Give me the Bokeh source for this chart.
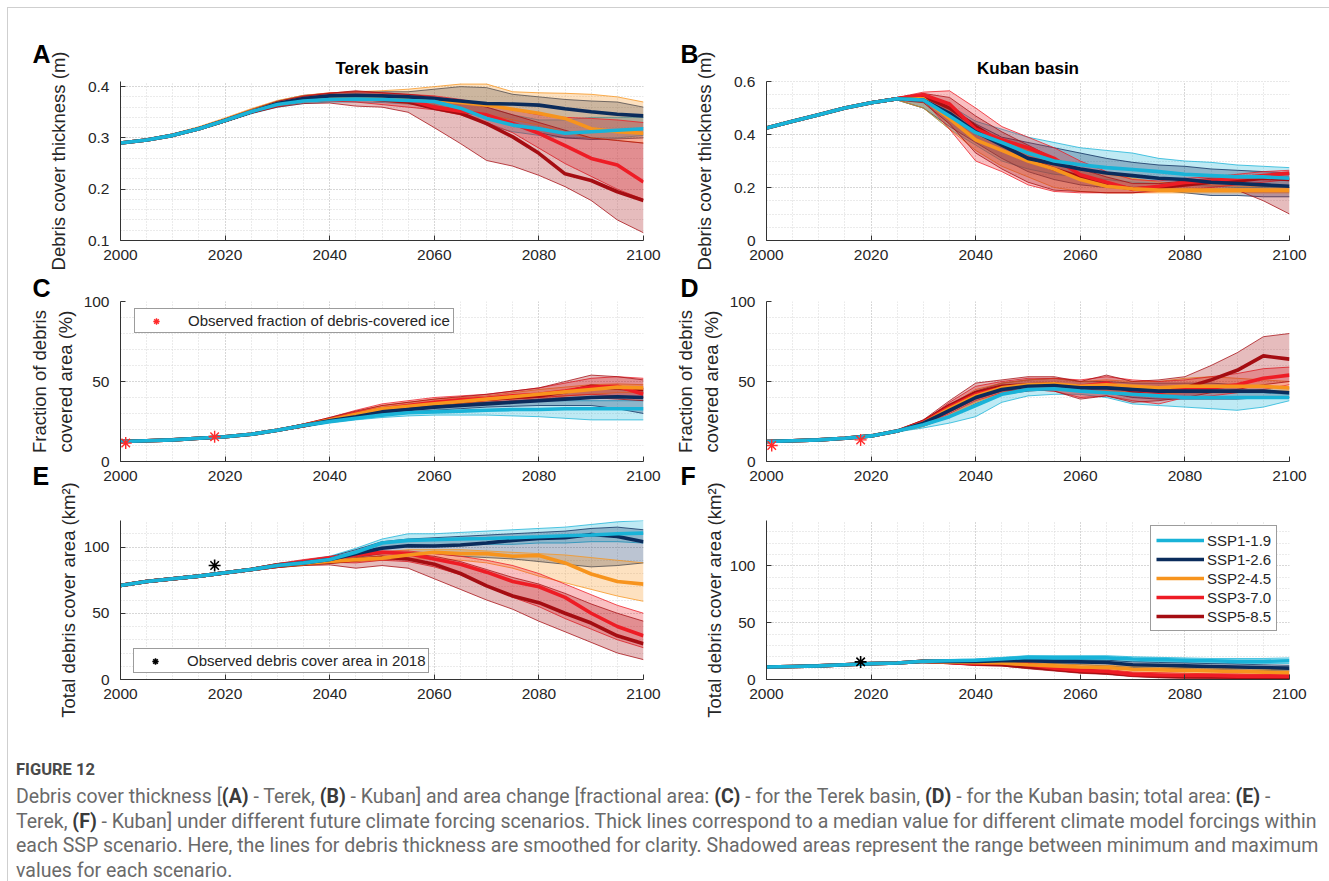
from bokeh.plotting import figure
from bokeh.models import (Range1d, SingleIntervalTicker, Title, Legend, LegendItem,
                          Div, CustomJSTickFormatter)
from bokeh.layouts import row, column
from bokeh.embed import file_html
from bokeh.resources import INLINE

# ---------------------------------------------------------------- data
YEARS = [2000, 2005, 2010, 2015, 2020, 2025, 2030, 2035, 2040, 2045, 2050,
         2055, 2060, 2065, 2070, 2075, 2080, 2085, 2090, 2095, 2100]
SCENARIOS = ["SSP1-1.9", "SSP1-2.6", "SSP2-4.5", "SSP3-7.0", "SSP5-8.5"]
COLORS = ["#19B3D8", "#0B2C5C", "#F7941D", "#EE1C25", "#A50D12"]

# Terek basin, debris cover thickness (m): median, min, max
terek_thk_119 = [0.290, 0.296, 0.305, 0.318, 0.334, 0.351, 0.365, 0.372, 0.375, 0.376, 0.375, 0.373, 0.371, 0.358, 0.338, 0.325, 0.318, 0.309, 0.312, 0.315, 0.318]
terek_thk_126 = [0.290, 0.296, 0.305, 0.318, 0.334, 0.351, 0.367, 0.377, 0.382, 0.383, 0.382, 0.380, 0.377, 0.372, 0.367, 0.366, 0.364, 0.357, 0.351, 0.346, 0.343]
terek_thk_245 = [0.290, 0.296, 0.305, 0.318, 0.334, 0.352, 0.367, 0.376, 0.380, 0.382, 0.381, 0.378, 0.374, 0.369, 0.364, 0.356, 0.348, 0.338, 0.318, 0.312, 0.309]
terek_thk_370 = [0.290, 0.296, 0.305, 0.318, 0.334, 0.351, 0.366, 0.376, 0.381, 0.382, 0.380, 0.375, 0.360, 0.352, 0.345, 0.328, 0.309, 0.285, 0.260, 0.247, 0.214]
terek_thk_585 = [0.290, 0.296, 0.305, 0.318, 0.334, 0.351, 0.366, 0.375, 0.380, 0.378, 0.374, 0.370, 0.358, 0.348, 0.328, 0.302, 0.270, 0.230, 0.217, 0.195, 0.178]
terek_thk_119_lo = [0.289, 0.295, 0.304, 0.316, 0.331, 0.347, 0.360, 0.367, 0.370, 0.370, 0.369, 0.366, 0.364, 0.350, 0.325, 0.312, 0.305, 0.300, 0.300, 0.300, 0.305]
terek_thk_119_hi = [0.291, 0.297, 0.306, 0.320, 0.337, 0.355, 0.370, 0.378, 0.381, 0.382, 0.381, 0.380, 0.378, 0.370, 0.360, 0.345, 0.335, 0.335, 0.340, 0.340, 0.340]
terek_thk_126_lo = [0.289, 0.295, 0.304, 0.316, 0.331, 0.348, 0.362, 0.371, 0.375, 0.376, 0.374, 0.370, 0.362, 0.355, 0.345, 0.330, 0.310, 0.300, 0.297, 0.298, 0.300]
terek_thk_126_hi = [0.291, 0.297, 0.306, 0.320, 0.337, 0.355, 0.372, 0.383, 0.387, 0.390, 0.390, 0.390, 0.395, 0.400, 0.398, 0.385, 0.380, 0.375, 0.372, 0.370, 0.360]
terek_thk_245_lo = [0.289, 0.295, 0.304, 0.316, 0.331, 0.348, 0.362, 0.370, 0.373, 0.374, 0.372, 0.367, 0.360, 0.355, 0.345, 0.335, 0.325, 0.310, 0.300, 0.295, 0.290]
terek_thk_245_hi = [0.291, 0.298, 0.308, 0.322, 0.339, 0.357, 0.373, 0.383, 0.388, 0.390, 0.392, 0.395, 0.400, 0.405, 0.405, 0.390, 0.388, 0.387, 0.385, 0.380, 0.370]
terek_thk_370_lo = [0.289, 0.295, 0.304, 0.316, 0.331, 0.348, 0.361, 0.370, 0.372, 0.370, 0.365, 0.360, 0.355, 0.345, 0.330, 0.310, 0.280, 0.250, 0.225, 0.200, 0.180]
terek_thk_370_hi = [0.291, 0.297, 0.306, 0.320, 0.337, 0.355, 0.371, 0.382, 0.388, 0.390, 0.388, 0.385, 0.382, 0.375, 0.365, 0.355, 0.345, 0.340, 0.338, 0.335, 0.330]
terek_thk_585_lo = [0.289, 0.295, 0.304, 0.316, 0.331, 0.348, 0.360, 0.367, 0.368, 0.362, 0.360, 0.350, 0.320, 0.289, 0.256, 0.245, 0.227, 0.205, 0.178, 0.140, 0.115]
terek_thk_585_hi = [0.291, 0.297, 0.306, 0.320, 0.337, 0.355, 0.371, 0.381, 0.387, 0.392, 0.388, 0.385, 0.380, 0.372, 0.360, 0.345, 0.330, 0.315, 0.300, 0.295, 0.290]

# Kuban basin, debris cover thickness (m)
kuban_thk_119 = [0.425, 0.450, 0.475, 0.500, 0.520, 0.535, 0.530, 0.470, 0.407, 0.370, 0.330, 0.300, 0.286, 0.275, 0.268, 0.260, 0.250, 0.245, 0.240, 0.240, 0.235]
kuban_thk_126 = [0.425, 0.450, 0.475, 0.500, 0.520, 0.535, 0.530, 0.480, 0.410, 0.360, 0.310, 0.290, 0.270, 0.255, 0.245, 0.235, 0.230, 0.220, 0.215, 0.210, 0.205]
kuban_thk_245 = [0.425, 0.450, 0.475, 0.500, 0.520, 0.535, 0.535, 0.460, 0.380, 0.340, 0.300, 0.270, 0.230, 0.205, 0.195, 0.190, 0.190, 0.190, 0.190, 0.190, 0.190]
kuban_thk_370 = [0.425, 0.450, 0.475, 0.500, 0.520, 0.535, 0.550, 0.515, 0.420, 0.380, 0.350, 0.310, 0.248, 0.220, 0.193, 0.205, 0.219, 0.225, 0.235, 0.245, 0.255]
kuban_thk_585 = [0.425, 0.450, 0.475, 0.500, 0.520, 0.535, 0.545, 0.500, 0.430, 0.370, 0.305, 0.270, 0.240, 0.210, 0.195, 0.200, 0.210, 0.220, 0.225, 0.235, 0.230]
kuban_thk_119_lo = [0.422, 0.447, 0.472, 0.497, 0.516, 0.530, 0.500, 0.420, 0.360, 0.300, 0.270, 0.250, 0.240, 0.230, 0.220, 0.215, 0.210, 0.205, 0.200, 0.200, 0.200]
kuban_thk_119_hi = [0.428, 0.453, 0.478, 0.503, 0.524, 0.540, 0.540, 0.510, 0.450, 0.420, 0.390, 0.370, 0.350, 0.340, 0.330, 0.310, 0.300, 0.295, 0.285, 0.280, 0.275]
kuban_thk_126_lo = [0.422, 0.447, 0.472, 0.497, 0.516, 0.530, 0.500, 0.430, 0.370, 0.310, 0.260, 0.230, 0.210, 0.200, 0.195, 0.190, 0.180, 0.170, 0.170, 0.165, 0.165]
kuban_thk_126_hi = [0.428, 0.453, 0.478, 0.503, 0.524, 0.540, 0.540, 0.500, 0.440, 0.390, 0.370, 0.350, 0.330, 0.310, 0.295, 0.285, 0.280, 0.270, 0.265, 0.260, 0.255]
kuban_thk_245_lo = [0.422, 0.447, 0.472, 0.497, 0.516, 0.530, 0.500, 0.420, 0.340, 0.280, 0.240, 0.200, 0.185, 0.180, 0.180, 0.180, 0.180, 0.180, 0.180, 0.180, 0.180]
kuban_thk_245_hi = [0.428, 0.453, 0.478, 0.503, 0.524, 0.540, 0.545, 0.500, 0.430, 0.380, 0.340, 0.300, 0.270, 0.250, 0.235, 0.220, 0.215, 0.210, 0.205, 0.205, 0.200]
kuban_thk_370_lo = [0.422, 0.447, 0.472, 0.497, 0.516, 0.530, 0.530, 0.420, 0.300, 0.260, 0.210, 0.185, 0.180, 0.180, 0.180, 0.185, 0.190, 0.200, 0.210, 0.220, 0.230]
kuban_thk_370_hi = [0.428, 0.453, 0.478, 0.503, 0.524, 0.540, 0.560, 0.565, 0.500, 0.430, 0.390, 0.350, 0.300, 0.260, 0.230, 0.225, 0.235, 0.240, 0.250, 0.260, 0.265]
kuban_thk_585_lo = [0.422, 0.447, 0.472, 0.497, 0.516, 0.530, 0.520, 0.440, 0.330, 0.270, 0.220, 0.190, 0.185, 0.180, 0.180, 0.190, 0.190, 0.190, 0.190, 0.150, 0.100]
kuban_thk_585_hi = [0.428, 0.453, 0.478, 0.503, 0.524, 0.540, 0.555, 0.540, 0.470, 0.410, 0.360, 0.310, 0.270, 0.240, 0.215, 0.215, 0.225, 0.235, 0.240, 0.245, 0.250]

# Terek basin, fraction of debris covered area (%)
terek_frac_119 = [12.5, 13.0, 13.5, 14.5, 15.5, 17.0, 19.5, 22.5, 25.0, 27.0, 29.0, 30.5, 31.0, 31.5, 32.0, 32.5, 32.5, 33.0, 33.0, 33.0, 33.0]
terek_frac_126 = [12.5, 13.0, 13.5, 14.5, 15.5, 17.0, 19.5, 22.5, 25.5, 28.0, 31.0, 32.5, 34.0, 35.0, 36.0, 37.0, 38.0, 39.0, 40.0, 40.5, 40.0]
terek_frac_245 = [12.5, 13.0, 13.5, 14.5, 15.5, 17.0, 19.5, 22.5, 26.0, 29.5, 33.0, 34.5, 36.0, 37.5, 39.0, 40.5, 42.0, 43.5, 45.0, 46.5, 46.0]
terek_frac_370 = [12.5, 13.0, 13.5, 14.5, 15.5, 17.0, 19.5, 22.5, 26.0, 30.0, 33.0, 35.0, 37.0, 38.5, 39.5, 41.0, 42.0, 44.0, 46.5, 47.0, 42.0]
terek_frac_585 = [12.5, 13.0, 13.5, 14.5, 15.5, 17.0, 19.5, 22.5, 26.0, 29.5, 32.0, 34.0, 36.0, 37.5, 39.0, 40.0, 41.0, 43.5, 47.0, 46.0, 45.0]
terek_frac_119_lo = [12.0, 12.5, 13.0, 14.0, 15.0, 16.5, 19.0, 21.5, 24.0, 26.0, 27.5, 28.5, 29.0, 29.0, 29.0, 28.5, 28.0, 27.0, 26.0, 26.0, 26.0]
terek_frac_119_hi = [13.0, 13.5, 14.0, 15.0, 16.0, 17.5, 20.0, 23.5, 26.0, 30.0, 33.0, 35.0, 36.0, 36.5, 37.0, 37.5, 38.0, 38.0, 38.0, 38.0, 38.0]
terek_frac_126_lo = [12.0, 12.5, 13.0, 14.0, 15.0, 16.5, 19.0, 21.5, 24.5, 26.5, 29.0, 31.0, 32.0, 33.0, 34.0, 34.5, 35.0, 35.0, 35.0, 33.0, 30.0]
terek_frac_126_hi = [13.0, 13.5, 14.0, 15.0, 16.0, 17.5, 20.0, 23.5, 26.5, 30.0, 33.0, 35.0, 37.0, 38.5, 40.0, 41.0, 42.0, 43.5, 45.0, 45.0, 44.0]
terek_frac_245_lo = [12.0, 12.5, 13.0, 14.0, 15.0, 16.5, 19.0, 21.5, 25.0, 28.0, 31.0, 33.0, 35.0, 36.5, 38.0, 39.0, 40.0, 41.0, 42.0, 43.0, 43.0]
terek_frac_245_hi = [13.0, 13.5, 14.0, 15.0, 16.0, 17.5, 20.0, 23.5, 27.0, 31.0, 35.0, 37.0, 39.0, 40.0, 41.0, 43.0, 45.0, 46.5, 48.0, 48.5, 48.0]
terek_frac_370_lo = [12.0, 12.5, 13.0, 14.0, 15.0, 16.5, 19.0, 21.5, 25.0, 28.5, 31.0, 33.0, 35.0, 36.5, 38.0, 39.0, 40.0, 41.0, 42.0, 41.0, 40.0]
terek_frac_370_hi = [13.0, 13.5, 14.0, 15.0, 16.0, 17.5, 20.0, 23.5, 27.5, 32.0, 36.0, 38.0, 40.0, 41.0, 42.0, 44.0, 46.0, 49.0, 52.0, 53.0, 52.0]
terek_frac_585_lo = [12.0, 12.5, 13.0, 14.0, 15.0, 16.5, 19.0, 21.5, 25.0, 28.0, 30.0, 32.0, 34.0, 35.5, 37.0, 38.0, 39.0, 40.0, 40.0, 39.0, 38.0]
terek_frac_585_hi = [13.0, 13.5, 14.0, 15.0, 16.0, 17.5, 20.0, 23.5, 27.5, 31.5, 35.0, 37.0, 39.0, 40.5, 42.0, 44.0, 46.0, 50.0, 54.0, 53.0, 51.0]

# Kuban basin, fraction of debris covered area (%)
kuban_frac_119 = [12.5, 13.0, 13.5, 14.5, 16.0, 19.0, 23.0, 28.0, 35.0, 42.0, 45.0, 45.5, 44.0, 43.0, 42.0, 41.0, 40.0, 40.0, 40.0, 40.0, 40.0]
kuban_frac_126 = [12.5, 13.0, 13.5, 14.5, 16.0, 19.0, 24.0, 32.0, 40.0, 45.0, 47.0, 47.5, 46.0, 46.0, 45.0, 44.0, 44.0, 44.0, 44.0, 44.0, 43.0]
kuban_frac_245 = [12.5, 13.0, 13.5, 14.5, 16.0, 19.0, 24.0, 33.0, 41.0, 46.0, 48.0, 48.5, 47.0, 48.0, 47.0, 46.0, 47.0, 47.0, 47.0, 47.0, 46.0]
kuban_frac_370 = [12.5, 13.0, 13.5, 14.5, 16.0, 19.0, 24.5, 34.0, 42.0, 46.0, 47.0, 48.0, 47.0, 49.0, 45.0, 43.0, 46.0, 46.0, 48.0, 52.0, 54.0]
kuban_frac_585 = [12.5, 13.0, 13.5, 14.5, 16.0, 19.0, 25.0, 35.0, 43.0, 47.0, 48.0, 48.5, 46.0, 48.0, 44.0, 44.0, 46.0, 51.0, 57.0, 66.0, 64.0]
kuban_frac_119_lo = [12.0, 12.5, 13.0, 14.0, 15.5, 18.5, 21.0, 24.0, 28.0, 37.0, 41.0, 42.0, 42.0, 40.0, 36.0, 35.0, 34.0, 33.0, 32.0, 34.0, 38.0]
kuban_frac_119_hi = [13.0, 13.5, 14.0, 15.0, 16.5, 19.5, 23.0, 31.0, 40.0, 46.0, 48.0, 49.0, 47.0, 46.0, 45.0, 44.0, 43.0, 43.0, 43.0, 43.0, 42.0]
kuban_frac_126_lo = [12.0, 12.5, 13.0, 14.0, 15.5, 18.5, 22.0, 28.0, 36.0, 42.0, 44.0, 45.0, 44.0, 43.0, 40.0, 39.0, 39.0, 39.0, 39.0, 40.0, 40.0]
kuban_frac_126_hi = [13.0, 13.5, 14.0, 15.0, 16.5, 19.5, 25.0, 35.0, 44.0, 49.0, 51.0, 52.0, 50.0, 50.0, 49.0, 49.0, 49.0, 49.0, 48.0, 47.0, 46.0]
kuban_frac_245_lo = [12.0, 12.5, 13.0, 14.0, 15.5, 18.5, 22.0, 29.0, 37.0, 43.0, 45.0, 45.0, 44.0, 44.0, 43.0, 42.0, 43.0, 43.0, 43.0, 44.0, 44.0]
kuban_frac_245_hi = [13.0, 13.5, 14.0, 15.0, 16.5, 19.5, 25.0, 35.0, 45.0, 49.0, 51.0, 52.0, 50.0, 51.0, 50.0, 50.0, 52.0, 53.0, 52.0, 51.0, 50.0]
kuban_frac_370_lo = [12.0, 12.5, 13.0, 14.0, 15.5, 18.5, 23.0, 30.0, 38.0, 43.0, 45.0, 44.0, 40.0, 41.0, 38.0, 36.0, 40.0, 41.0, 43.0, 45.0, 48.0]
kuban_frac_370_hi = [13.0, 13.5, 14.0, 15.0, 16.5, 19.5, 25.0, 37.0, 47.0, 50.0, 52.0, 52.0, 51.0, 53.0, 51.0, 50.0, 51.0, 53.0, 55.0, 58.0, 59.0]
kuban_frac_585_lo = [12.0, 12.5, 13.0, 14.0, 15.5, 18.5, 23.0, 31.0, 39.0, 44.0, 45.0, 44.0, 39.0, 41.0, 37.0, 38.0, 40.0, 43.0, 45.0, 48.0, 50.0]
kuban_frac_585_hi = [13.0, 13.5, 14.0, 15.0, 16.5, 19.5, 26.0, 38.0, 49.0, 51.0, 53.0, 53.0, 50.0, 54.0, 50.0, 51.0, 53.0, 60.0, 68.0, 78.0, 80.0]

# Terek basin, total debris cover area (km2)
terek_area_119 = [71.0, 74.0, 76.0, 78.0, 80.5, 83.0, 86.0, 88.0, 90.6, 96.0, 103.0, 105.0, 105.5, 106.0, 106.4, 107.0, 107.7, 108.5, 109.0, 110.0, 110.5]
terek_area_126 = [71.0, 74.0, 76.0, 78.0, 80.5, 83.0, 86.0, 88.0, 90.5, 95.0, 99.0, 101.0, 100.8, 101.5, 103.0, 105.0, 106.4, 107.0, 109.4, 108.0, 104.0]
terek_area_245 = [71.0, 74.0, 76.0, 78.0, 80.5, 83.0, 86.0, 87.5, 89.0, 90.5, 91.6, 94.0, 96.0, 95.0, 95.0, 93.0, 93.6, 88.0, 79.6, 74.0, 72.0]
terek_area_370 = [71.0, 74.0, 76.0, 78.0, 80.5, 83.0, 86.0, 89.0, 91.6, 94.0, 96.0, 95.0, 91.0, 87.0, 81.0, 74.0, 70.0, 62.0, 50.0, 40.0, 33.0]
terek_area_585 = [71.0, 74.0, 76.0, 78.0, 80.5, 83.0, 86.0, 87.5, 88.5, 90.5, 92.3, 91.0, 87.0, 80.0, 70.7, 63.0, 58.0, 50.0, 42.6, 33.0, 27.0]
terek_area_119_lo = [70.0, 73.0, 75.0, 77.0, 79.5, 82.0, 84.5, 86.5, 89.0, 94.0, 99.0, 101.0, 101.0, 101.0, 102.0, 102.0, 103.0, 103.0, 104.0, 104.0, 103.0]
terek_area_119_hi = [72.0, 75.0, 77.0, 79.0, 81.5, 84.0, 87.5, 90.0, 93.0, 99.0, 106.0, 110.0, 110.0, 111.0, 112.0, 113.0, 114.0, 115.0, 117.0, 119.0, 120.0]
terek_area_126_lo = [70.0, 73.0, 75.0, 77.0, 79.5, 82.0, 84.5, 86.5, 88.5, 92.0, 95.0, 96.0, 95.0, 93.0, 92.0, 91.0, 89.0, 87.0, 85.0, 86.0, 88.0]
terek_area_126_hi = [72.0, 75.0, 77.0, 79.0, 81.5, 84.0, 87.5, 89.5, 92.5, 98.0, 104.0, 106.0, 107.0, 108.0, 109.0, 110.0, 111.0, 112.0, 114.0, 115.0, 113.0]
terek_area_245_lo = [70.0, 73.0, 75.0, 77.0, 79.5, 82.0, 84.5, 86.0, 87.5, 89.0, 90.0, 91.0, 91.0, 90.0, 88.0, 84.0, 78.0, 73.0, 68.0, 63.0, 59.0]
terek_area_245_hi = [72.0, 75.0, 77.0, 79.0, 81.5, 84.0, 87.5, 89.0, 91.0, 93.0, 96.0, 98.0, 98.0, 98.0, 97.0, 96.0, 95.0, 94.0, 92.0, 90.0, 88.0]
terek_area_370_lo = [70.0, 73.0, 75.0, 77.0, 79.5, 82.0, 84.5, 87.0, 88.5, 88.0, 90.0, 89.0, 85.0, 79.0, 71.0, 62.0, 55.0, 46.0, 38.0, 30.0, 24.0]
terek_area_370_hi = [72.0, 75.0, 77.0, 79.0, 81.5, 84.0, 87.5, 90.5, 93.0, 95.0, 97.0, 97.0, 95.0, 93.0, 90.0, 86.0, 80.0, 72.0, 64.0, 56.0, 50.0]
terek_area_585_lo = [70.0, 73.0, 75.0, 77.0, 79.5, 82.0, 84.5, 86.0, 86.5, 84.0, 86.0, 84.0, 76.0, 68.0, 60.0, 53.0, 44.0, 36.0, 28.0, 20.0, 15.0]
terek_area_585_hi = [72.0, 75.0, 77.0, 79.0, 81.5, 84.0, 87.5, 89.0, 91.0, 93.0, 95.0, 95.0, 93.0, 89.0, 83.0, 77.0, 72.0, 65.0, 57.0, 50.0, 44.0]

# Kuban basin, total debris cover area (km2)
kuban_area_119 = [11.0, 11.5, 12.0, 13.0, 14.0, 14.5, 16.0, 16.5, 17.0, 18.0, 19.5, 19.0, 19.0, 19.0, 18.0, 17.5, 17.0, 16.5, 16.0, 16.0, 16.5]
kuban_area_126 = [11.0, 11.5, 12.0, 13.0, 14.0, 14.5, 16.0, 16.0, 16.0, 16.5, 16.5, 16.0, 15.5, 15.0, 13.0, 12.5, 12.0, 11.5, 11.0, 10.5, 10.0]
kuban_area_245 = [11.0, 11.5, 12.0, 13.0, 14.0, 14.5, 16.0, 15.5, 15.0, 14.5, 13.0, 12.0, 11.0, 10.5, 9.0, 8.5, 8.0, 7.5, 7.0, 6.5, 6.0]
kuban_area_370 = [11.0, 11.5, 12.0, 13.0, 14.0, 14.5, 16.0, 15.0, 14.0, 15.0, 13.0, 10.0, 8.0, 7.0, 4.5, 4.0, 3.5, 3.5, 3.0, 3.0, 3.0]
kuban_area_585 = [11.0, 11.5, 12.0, 13.0, 14.0, 14.5, 16.0, 15.0, 13.5, 13.0, 11.0, 9.0, 7.0, 6.0, 4.0, 3.0, 2.5, 2.2, 2.0, 2.0, 2.0]
kuban_area_119_lo = [10.5, 11.0, 11.5, 12.5, 13.5, 14.0, 15.0, 15.5, 16.0, 17.0, 18.0, 17.5, 17.0, 16.5, 16.0, 15.5, 15.0, 14.5, 14.0, 14.0, 14.0]
kuban_area_119_hi = [11.5, 12.0, 12.5, 13.5, 14.5, 15.0, 17.0, 17.5, 18.0, 19.5, 21.0, 21.0, 21.0, 21.0, 20.0, 19.5, 19.0, 18.5, 18.5, 18.5, 19.0]
kuban_area_126_lo = [10.5, 11.0, 11.5, 12.5, 13.5, 14.0, 15.0, 15.0, 15.0, 15.0, 15.0, 14.0, 13.0, 12.0, 10.5, 10.0, 9.5, 9.0, 8.5, 8.0, 7.5]
kuban_area_126_hi = [11.5, 12.0, 12.5, 13.5, 14.5, 15.0, 17.0, 17.0, 17.0, 18.0, 18.0, 18.0, 17.5, 17.0, 15.5, 15.0, 14.5, 14.0, 13.5, 13.0, 12.5]
kuban_area_245_lo = [10.5, 11.0, 11.5, 12.5, 13.5, 14.0, 15.0, 14.5, 14.0, 13.0, 11.0, 10.0, 9.0, 8.0, 6.5, 6.0, 5.5, 5.0, 4.5, 4.0, 4.0]
kuban_area_245_hi = [11.5, 12.0, 12.5, 13.5, 14.5, 15.0, 17.0, 16.5, 16.0, 16.0, 15.0, 14.0, 13.0, 12.5, 11.5, 11.0, 10.5, 10.0, 9.5, 9.0, 8.5]
kuban_area_370_lo = [10.5, 11.0, 11.5, 12.5, 13.5, 14.0, 15.0, 14.0, 13.0, 13.0, 11.0, 8.0, 6.0, 5.0, 3.0, 2.5, 2.0, 2.0, 1.5, 1.5, 1.5]
kuban_area_370_hi = [11.5, 12.0, 12.5, 13.5, 14.5, 15.0, 17.0, 16.0, 15.0, 16.5, 15.0, 12.0, 10.0, 9.0, 6.5, 6.0, 5.5, 5.0, 5.0, 4.5, 4.5]
kuban_area_585_lo = [10.5, 11.0, 11.5, 12.5, 13.5, 14.0, 15.0, 14.0, 12.5, 12.0, 9.5, 7.5, 5.5, 4.5, 2.5, 1.5, 1.0, 1.0, 1.0, 1.0, 1.0]
kuban_area_585_hi = [11.5, 12.0, 12.5, 13.5, 14.5, 15.0, 17.0, 16.0, 14.5, 14.5, 13.0, 11.0, 9.0, 7.5, 5.5, 4.5, 4.0, 3.5, 3.0, 3.0, 3.0]

# observations
terek_obs_frac_years = [2001, 2018]
terek_obs_frac = [11.5, 15.5]
kuban_obs_frac_years = [2001, 2018]
kuban_obs_frac = [10.0, 13.5]
terek_obs_area_years = [2018]
terek_obs_area = [86.0]
kuban_obs_area_years = [2018]
kuban_obs_area = [15.5]

TEREK_THK = [(terek_thk_119, terek_thk_119_lo, terek_thk_119_hi), (terek_thk_126, terek_thk_126_lo, terek_thk_126_hi),
             (terek_thk_245, terek_thk_245_lo, terek_thk_245_hi), (terek_thk_370, terek_thk_370_lo, terek_thk_370_hi),
             (terek_thk_585, terek_thk_585_lo, terek_thk_585_hi)]
KUBAN_THK = [(kuban_thk_119, kuban_thk_119_lo, kuban_thk_119_hi), (kuban_thk_126, kuban_thk_126_lo, kuban_thk_126_hi),
             (kuban_thk_245, kuban_thk_245_lo, kuban_thk_245_hi), (kuban_thk_370, kuban_thk_370_lo, kuban_thk_370_hi),
             (kuban_thk_585, kuban_thk_585_lo, kuban_thk_585_hi)]
TEREK_FRAC = [(terek_frac_119, terek_frac_119_lo, terek_frac_119_hi), (terek_frac_126, terek_frac_126_lo, terek_frac_126_hi),
              (terek_frac_245, terek_frac_245_lo, terek_frac_245_hi), (terek_frac_370, terek_frac_370_lo, terek_frac_370_hi),
              (terek_frac_585, terek_frac_585_lo, terek_frac_585_hi)]
KUBAN_FRAC = [(kuban_frac_119, kuban_frac_119_lo, kuban_frac_119_hi), (kuban_frac_126, kuban_frac_126_lo, kuban_frac_126_hi),
              (kuban_frac_245, kuban_frac_245_lo, kuban_frac_245_hi), (kuban_frac_370, kuban_frac_370_lo, kuban_frac_370_hi),
              (kuban_frac_585, kuban_frac_585_lo, kuban_frac_585_hi)]
TEREK_AREA = [(terek_area_119, terek_area_119_lo, terek_area_119_hi), (terek_area_126, terek_area_126_lo, terek_area_126_hi),
              (terek_area_245, terek_area_245_lo, terek_area_245_hi), (terek_area_370, terek_area_370_lo, terek_area_370_hi),
              (terek_area_585, terek_area_585_lo, terek_area_585_hi)]
KUBAN_AREA = [(kuban_area_119, kuban_area_119_lo, kuban_area_119_hi), (kuban_area_126, kuban_area_126_lo, kuban_area_126_hi),
              (kuban_area_245, kuban_area_245_lo, kuban_area_245_hi), (kuban_area_370, kuban_area_370_lo, kuban_area_370_hi),
              (kuban_area_585, kuban_area_585_lo, kuban_area_585_hi)]

# ---------------------------------------------------------------- styling
FONT = "Liberation Sans"
AXIS_COLOR = "#333333"
TEXT_COLOR = "#262626"
LEFT_W, RIGHT_W = 656, 665
ROW_H = [262, 215, 289]
ROW3_OVERLAP = 53          # bottom row starts above the end of the middle row
# (left, right) border of the left / right column figures
COL_BORDERS = [(112, 21), (102, 40)]
# (top, bottom) border of each row
ROW_BORDERS = [(73, 30), (31, 24), (88, 42)]

fmt_code = "return String(Number(tick.toFixed(3)));"


def make_panel(col, rw, ylim, yint, yminor, ylabel, ylabel_standoff):
    left, right = COL_BORDERS[col]
    top, bottom = ROW_BORDERS[rw]
    p = figure(width=LEFT_W if col == 0 else RIGHT_W, height=ROW_H[rw], title=None,
               x_range=Range1d(2000, 2100), y_range=Range1d(*ylim),
               output_backend="svg", toolbar_location=None,
               min_border_left=left, min_border_right=right,
               min_border_top=top, min_border_bottom=bottom)
    p.outline_line_color = None
    p.background_fill_color = "white"
    p.border_fill_color = "white"
    p.xaxis.ticker = SingleIntervalTicker(interval=20, num_minor_ticks=4)
    p.yaxis.ticker = SingleIntervalTicker(interval=yint, num_minor_ticks=yminor)
    for ax in (p.xaxis[0], p.yaxis[0]):
        ax.formatter = CustomJSTickFormatter(code=fmt_code)
        ax.axis_line_color = AXIS_COLOR
        ax.axis_line_width = 1
        ax.major_tick_line_color = AXIS_COLOR
        ax.major_tick_in = 5
        ax.major_tick_out = 0
        ax.minor_tick_line_color = None
        ax.major_label_text_font = FONT
        ax.major_label_text_font_size = "15.5px"
        ax.major_label_text_color = TEXT_COLOR
    p.xaxis.major_label_standoff = 5
    p.yaxis.major_label_standoff = 7
    p.yaxis.axis_label = ylabel
    p.yaxis.axis_label_text_font = FONT
    p.yaxis.axis_label_text_font_size = "18.5px"
    p.yaxis.axis_label_text_font_style = "normal"
    p.yaxis.axis_label_text_color = TEXT_COLOR
    p.yaxis.axis_label_standoff = ylabel_standoff
    for g in (p.xgrid[0], p.ygrid[0]):
        g.grid_line_color = "#c2c2c2"
        g.grid_line_dash = "1 2"
        g.grid_line_width = 1
        g.minor_grid_line_color = "#d6d6d6"
        g.minor_grid_line_dash = "1 2"
        g.minor_grid_line_width = 1
    return p


def draw_scenarios(p, series):
    for (med, lo, hi), color in zip(series, COLORS):
        p.varea(x=YEARS, y1=lo, y2=hi, fill_color=color, fill_alpha=0.28)
        p.line(YEARS, lo, line_color=color, line_width=0.9, line_alpha=0.85)
        p.line(YEARS, hi, line_color=color, line_width=0.9, line_alpha=0.85)
    medians = []
    for (med, lo, hi), color in reversed(list(zip(series, COLORS))):
        medians.append(p.line(YEARS, med, line_color=color, line_width=3.6))
    return list(reversed(medians))


def panel_title(p, text):
    p.add_layout(Title(text=text, align="center", standoff=7, text_font=FONT,
                       text_font_size="17px", text_font_style="bold", text_color="black"),
                 "above")


def panel_letter(p, text, offset, standoff, valign="bottom"):
    p.add_layout(Title(text=text, align="left", offset=offset, standoff=standoff,
                       vertical_align=valign, text_font=FONT, text_font_size="25px",
                       text_font_style="bold", text_color="black"),
                 "above")


def obs_legend(p, renderer, label, x, y):
    leg = Legend(items=[LegendItem(label=label, renderers=[renderer])], location=(x, y))
    leg.border_line_color = "#3a3a3a"
    leg.border_line_width = 1
    leg.background_fill_color = "white"
    leg.background_fill_alpha = 1
    leg.label_text_font = FONT
    leg.label_text_font_size = "15px"
    leg.label_text_color = TEXT_COLOR
    leg.glyph_width = 36
    leg.glyph_height = 16
    leg.label_height = 16
    leg.label_standoff = 14
    leg.padding = 3
    leg.margin = 0
    p.add_layout(leg)


# ---------------------------------------------------------------- panels
pa = make_panel(0, 0, (0.1, 0.41), 0.1, 5, "Debris cover thickness (m)", 16)
draw_scenarios(pa, TEREK_THK)
panel_title(pa, "Terek basin")
panel_letter(pa, "A", -88, -28)

pb = make_panel(1, 0, (0.0, 0.6001), 0.2, 4, "Debris cover thickness (m)", 16)
draw_scenarios(pb, KUBAN_THK)
panel_title(pb, "Kuban basin")
panel_letter(pb, "B", -86, -28)

pc = make_panel(0, 1, (0, 100), 50, 5, "Fraction of debris\ncovered area (%)", 5)
draw_scenarios(pc, TEREK_FRAC)
obs_c = pc.scatter(terek_obs_frac_years, terek_obs_frac, marker="asterisk", size=12,
                   line_color="#FF2B2B", line_width=1.4)
obs_legend(pc, obs_c, "Observed fraction of debris-covered ice", 14, 128)
panel_letter(pc, "C", -88, 0)

pd = make_panel(1, 1, (0, 100), 50, 5, "Fraction of debris\ncovered area (%)", 5)
draw_scenarios(pd, KUBAN_FRAC)
pd.scatter(kuban_obs_frac_years, kuban_obs_frac, marker="asterisk", size=12,
           line_color="#FF2B2B", line_width=1.4)
panel_letter(pd, "D", -86, 0)

pe = make_panel(0, 2, (0, 120), 50, 5, "Total debris cover area (km²)", 2)
draw_scenarios(pe, TEREK_AREA)
obs_e = pe.scatter(terek_obs_area_years, terek_obs_area, marker="asterisk", size=12,
                   line_color="black", line_width=1.6)
obs_legend(pe, obs_e, "Observed debris cover area in 2018", 13, 6)
panel_letter(pe, "E", -88, 57, "top")

pf = make_panel(1, 2, (0, 140), 50, 5, "Total debris cover area (km²)", 2)
med_f = draw_scenarios(pf, KUBAN_AREA)
pf.scatter(kuban_obs_area_years, kuban_obs_area, marker="asterisk", size=12,
           line_color="black", line_width=1.6)
panel_letter(pf, "F", -86, 57, "top")
leg_f = Legend(items=[LegendItem(label=s, renderers=[r]) for s, r in zip(SCENARIOS, med_f)],
               location=(384, 48))
leg_f.border_line_color = "#3a3a3a"
leg_f.border_line_width = 1
leg_f.background_fill_color = "white"
leg_f.background_fill_alpha = 1
leg_f.label_text_font = FONT
leg_f.label_text_font_size = "15px"
leg_f.label_text_color = TEXT_COLOR
leg_f.glyph_width = 48
leg_f.glyph_height = 18
leg_f.label_height = 18
leg_f.label_standoff = 3
leg_f.spacing = 1
leg_f.padding = 5
leg_f.margin = 0
pf.add_layout(leg_f)

# the bottom row reaches up behind the middle row's tick labels, so keep its margins clear
for p in (pe, pf):
    p.border_fill_alpha = 0

# ---------------------------------------------------------------- caption
B = '<b style="color:#3a3a3a">'
caption_html = (
    '<div style="font-family:Roboto,sans-serif;margin:33px 0 0 3px;white-space:nowrap;">'
    '<div style="font-size:16.5px;color:#4a4a4a;font-weight:bold;line-height:22px;">FIGURE 12</div>'
    '<div style="font-size:19.5px;color:#6a6a6a;line-height:24.5px;margin-top:4px;">'
    f'Debris cover thickness [{B}(A)</b> - Terek, {B}(B)</b> - Kuban] '
    f'and area change [fractional area: {B}(C)</b> - for the Terek basin, '
    f'{B}(D)</b> - for the Kuban basin; total area: {B}(E)</b> -<br>'
    f'Terek, {B}(F)</b> - Kuban] under different future climate forcing scenarios. '
    'Thick lines correspond to a median value for different climate model forcings within<br>'
    'each SSP scenario. Here, the lines for debris thickness are smoothed for clarity. '
    'Shadowed areas represent the range between minimum and maximum<br>'
    'values for each scenario.</div></div>'
)
caption_h = 881 - 8 - (sum(ROW_H) - ROW3_OVERLAP)
caption = Div(text=caption_html, width=LEFT_W + RIGHT_W, height=caption_h)

layout = column(row(pa, pb), row(pc, pd), row(pe, pf, margin=(-ROW3_OVERLAP, 0, 0, 0)),
                caption, spacing=0, margin=(7, 0, 0, 7),
                styles={"border-top": "1px solid #cfcfcf", "border-left": "1px solid #cfcfcf"})

with open("out.html", "w") as f:
    f.write(file_html(layout, INLINE, title="Debris cover scenarios"))
